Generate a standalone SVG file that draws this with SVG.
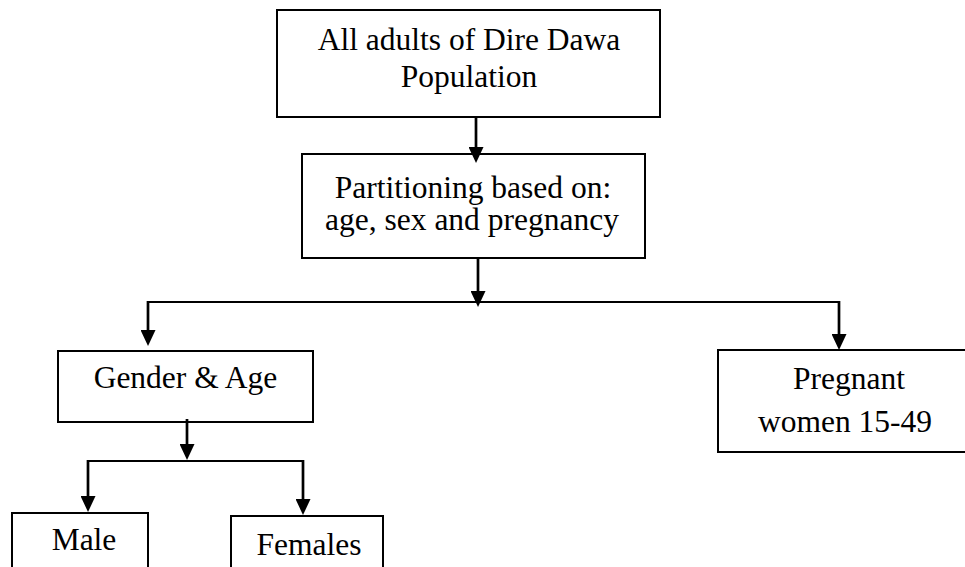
<svg xmlns="http://www.w3.org/2000/svg" width="965" height="567" viewBox="0 0 965 567">
<style>
.box{fill:#fff;stroke:#000;stroke-width:2}
.t{font-family:"Liberation Serif","Times New Roman",serif;font-size:31.5px;fill:#000;text-anchor:middle}
.c{fill:none;stroke:#000;stroke-width:2.7}
.h{fill:none;stroke:#000;stroke-width:2}
</style>
<defs>
<marker id="ah" markerWidth="16" markerHeight="15" refX="8" refY="7.5" orient="auto" markerUnits="userSpaceOnUse">
<path d="M0,0 L16,7.5 L0,15 Z" fill="#000"/>
</marker>
</defs>
<rect width="965" height="567" fill="#fff"/>
<g id="n1"><rect class="box" x="277" y="10" width="383" height="107"/><text class="t" x="469" y="50">All adults of Dire Dawa</text><text class="t" x="469" y="87">Population</text></g>
<g id="n2"><rect class="box" x="302" y="154" width="343" height="104"/><text class="t" x="473" y="198">Partitioning based on:</text><text class="t" x="472" y="230">age, sex and pregnancy</text></g>
<g id="n3"><rect class="box" x="58" y="351" width="255" height="71"/><text class="t" x="185.5" y="388">Gender &amp; Age</text></g>
<g id="n4"><rect class="box" x="718" y="350" width="250" height="102"/><text class="t" x="849" y="389">Pregnant</text><text class="t" x="845" y="432">women 15-49</text></g>
<g id="n5"><rect class="box" x="12" y="513" width="136" height="70"/><text class="t" x="84" y="550">Male</text></g>
<g id="n6"><rect class="box" x="231" y="516" width="152" height="70"/><text class="t" x="309" y="555">Females</text></g>
<g id="connectors">
<line class="c" x1="476" y1="117" x2="476" y2="155" marker-end="url(#ah)"/>
<line class="c" x1="478" y1="258" x2="478" y2="299" marker-end="url(#ah)"/>
<line class="h" x1="147" y1="302" x2="840" y2="302"/>
<line class="c" x1="148" y1="301" x2="148" y2="338" marker-end="url(#ah)"/>
<line class="c" x1="839" y1="301" x2="839" y2="342" marker-end="url(#ah)"/>
<line class="c" x1="187" y1="419" x2="187" y2="452" marker-end="url(#ah)"/>
<line class="h" x1="87" y1="461" x2="304" y2="461"/>
<line class="c" x1="88" y1="460" x2="88" y2="504" marker-end="url(#ah)"/>
<line class="c" x1="303" y1="460" x2="303" y2="507" marker-end="url(#ah)"/>
</g>
</svg>
